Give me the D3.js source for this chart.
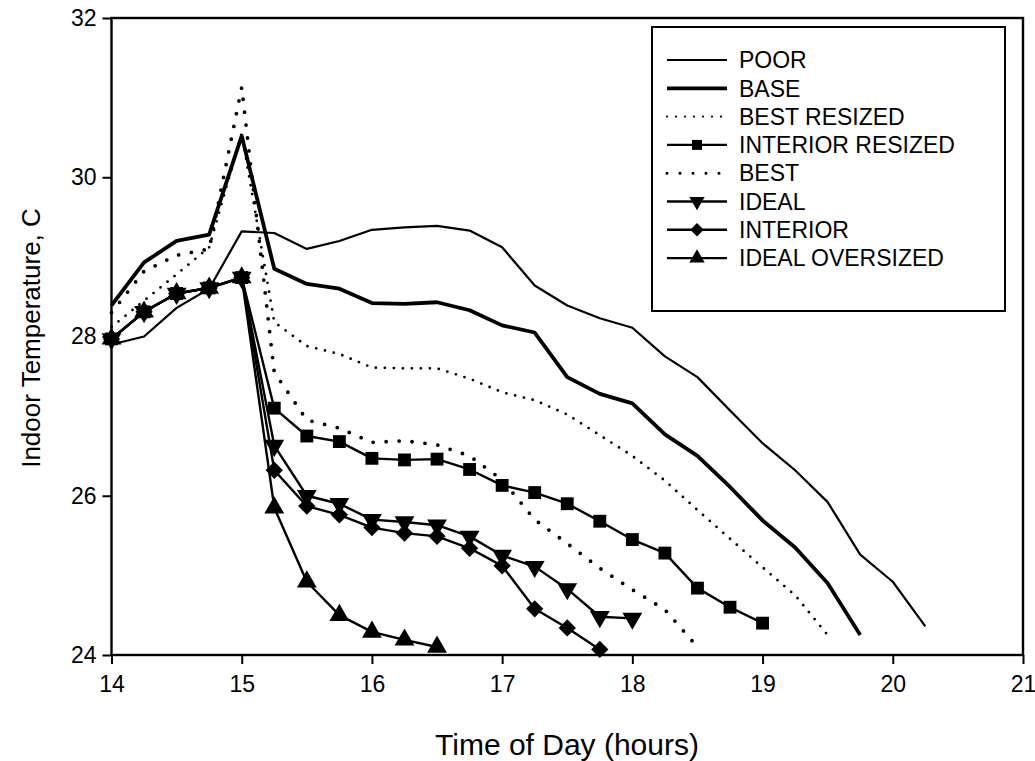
<!DOCTYPE html>
<html>
<head>
<meta charset="utf-8">
<script src="https://cdn.jsdelivr.net/npm/d3@7"></script>
<style>
body { margin: 0; background: #fff; }
svg { font-family: "Liberation Sans", Arial, sans-serif; }
</style>
</head>
<body>
<svg id="chart" width="1035" height="761"></svg>
<script>
// time axis (hours), one reading every 15 min
var timeSteps = [14, 14.25, 14.5, 14.75, 15, 15.25, 15.5, 15.75, 16, 16.25, 16.5, 16.75,
                 17, 17.25, 17.5, 17.75, 18, 18.25, 18.5, 18.75, 19, 19.25, 19.5, 19.75, 20, 20.25];

// indoor temperature, C (each series starts at 14:00 and stops when it ends)
var poor = [27.9, 28.0, 28.36, 28.6, 29.32, 29.3, 29.1, 29.2, 29.34, 29.37, 29.39, 29.33,
            29.12, 28.64, 28.39, 28.23, 28.11, 27.75, 27.49, 27.07, 26.66, 26.32, 25.92, 25.26, 24.92, 24.36];
var base = [28.39, 28.93, 29.2, 29.28, 30.52, 28.85, 28.66, 28.6, 28.42, 28.41, 28.43, 28.33,
            28.14, 28.05, 27.49, 27.28, 27.16, 26.77, 26.5, 26.11, 25.69, 25.35, 24.9, 24.25];
var bestResized = [28.12, 28.45, 28.78, 29.12, 30.55, 28.18, 27.88, 27.78, 27.61, 27.6, 27.6, 27.47,
                   27.3, 27.2, 27.02, 26.76, 26.5, 26.19, 25.82, 25.46, 25.1, 24.75, 24.25];
var interiorResized = [27.97, 28.31, 28.54, 28.61, 28.74, 27.1, 26.75, 26.68, 26.47, 26.45, 26.46, 26.33,
                       26.13, 26.04, 25.9, 25.68, 25.45, 25.28, 24.84, 24.6, 24.4];
var best = [28.3, 28.82, 29.02, 29.1, 31.13, 27.55, 26.95, 26.85, 26.67, 26.69, 26.64, 26.5,
            26.2, 25.7, 25.4, 25.09, 24.82, 24.57, 24.1];
var ideal = [27.97, 28.31, 28.54, 28.61, 28.74, 26.63, 26.0, 25.9, 25.7, 25.67, 25.63, 25.49,
             25.25, 25.11, 24.83, 24.48, 24.46];
var interior = [27.97, 28.31, 28.54, 28.61, 28.74, 26.32, 25.87, 25.76, 25.6, 25.53, 25.49, 25.34,
                25.12, 24.58, 24.34, 24.07];
var idealOversized = [27.97, 28.31, 28.54, 28.61, 28.74, 25.85, 24.92, 24.5, 24.29, 24.19, 24.1];

var seriesNames = ["POOR", "BASE", "BEST RESIZED", "INTERIOR RESIZED", "BEST", "IDEAL", "INTERIOR", "IDEAL OVERSIZED"];
var seriesValues = [poor, base, bestResized, interiorResized, best, ideal, interior, idealOversized];

var xTicks = [14, 15, 16, 17, 18, 19, 20, 21];
var yTicks = [24, 26, 28, 30, 32];

// look of each series
var styles = {
    "POOR":             {width: 2.2, dash: null,   marker: null},
    "BASE":             {width: 3.8, dash: null,   marker: null},
    "BEST RESIZED":     {width: 2.8, dash: "0,9",  marker: null},
    "INTERIOR RESIZED": {width: 2.4, dash: null,   marker: "square"},
    "BEST":             {width: 3.8, dash: "0,13", marker: null},
    "IDEAL":            {width: 2.4, dash: null,   marker: "down"},
    "INTERIOR":         {width: 2.4, dash: null,   marker: "diamond"},
    "IDEAL OVERSIZED":  {width: 2.4, dash: null,   marker: "up"}
};

var svg = d3.select("#chart");

var x = d3.scaleLinear().domain([14, 21]).range([111.5, 1023]);
var y = d3.scaleLinear().domain([24, 32]).range([655, 18]);

// marker path + rotation
function markerPath(kind, big) {
    var s = big ? 1 : 0.6;
    if (kind == "square") return {d: d3.symbol().type(d3.symbolSquare).size(165 * s)(), rot: 0};
    if (kind == "diamond") return {d: d3.symbol().type(d3.symbolSquare).size(150 * s)(), rot: 45};
    if (kind == "up") return {d: d3.symbol().type(d3.symbolTriangle).size(170 * s)(), rot: 0};
    if (kind == "down") return {d: d3.symbol().type(d3.symbolTriangle).size(170 * s)(), rot: 180};
}

// axes
var xAxis = svg.append("g")
    .attr("transform", "translate(0," + y(24) + ")")
    .call(d3.axisBottom(x).tickValues(xTicks).tickFormat(d3.format("d"))
        .tickSize(9).tickSizeOuter(0).tickPadding(12));
var yAxis = svg.append("g")
    .attr("transform", "translate(" + x(14) + ",0)")
    .call(d3.axisLeft(y).tickValues(yTicks).tickFormat(d3.format("d"))
        .tickSize(9).tickSizeOuter(0).tickPadding(6));

[xAxis, yAxis].forEach(function(a) {
    a.select(".domain").remove();
    a.selectAll("line").attr("stroke", "#000").attr("stroke-width", 2);
    a.selectAll("text").attr("fill", "#000").style("font-size", "23px");
});

// plot frame
svg.append("rect")
    .attr("x", x(14)).attr("y", y(32))
    .attr("width", x(21) - x(14)).attr("height", y(24) - y(32))
    .attr("fill", "none").attr("stroke", "#000").attr("stroke-width", 2.4);

var line = d3.line()
    .x(function(d) { return x(d.t); })
    .y(function(d) { return y(d.v); });

var plot = svg.append("g");

for (var i = 0; i < seriesNames.length; i++) {
    var st = styles[seriesNames[i]];
    var pts = seriesValues[i].map(function(v, j) { return {t: timeSteps[j], v: v}; });

    var path = plot.append("path")
        .datum(pts)
        .attr("d", line)
        .attr("fill", "none")
        .attr("stroke", "#000")
        .attr("stroke-width", st.width)
        .attr("stroke-linejoin", "round");
    if (st.dash) path.attr("stroke-dasharray", st.dash).attr("stroke-linecap", "round");

    if (st.marker) {
        var m = markerPath(st.marker, true);
        plot.append("g").selectAll("path")
            .data(pts)
            .enter().append("path")
            .attr("d", m.d)
            .attr("transform", function(d) { return "translate(" + x(d.t) + "," + y(d.v) + ") rotate(" + m.rot + ")"; })
            .attr("fill", "#000");
    }
}

// legend
var legend = svg.append("g");
legend.append("rect")
    .attr("x", 652).attr("y", 27).attr("width", 353).attr("height", 284)
    .attr("fill", "#fff").attr("stroke", "#000").attr("stroke-width", 2);

for (var i = 0; i < seriesNames.length; i++) {
    var st = styles[seriesNames[i]];
    var ly = 60 + i * 28.3;
    var l = legend.append("line")
        .attr("x1", 667).attr("x2", 727).attr("y1", ly).attr("y2", ly)
        .attr("stroke", "#000")
        .attr("stroke-width", st.dash ? st.width * 0.8 : st.width);
    if (st.dash) l.attr("stroke-dasharray", st.dash).attr("stroke-linecap", "round");
    if (st.marker) {
        var m = markerPath(st.marker, false);
        legend.append("path")
            .attr("d", m.d)
            .attr("transform", "translate(697," + ly + ") rotate(" + m.rot + ")")
            .attr("fill", "#000");
    }
    legend.append("text")
        .attr("x", 739).attr("y", ly)
        .attr("dy", "0.36em")
        .style("font-size", "23px")
        .text(seriesNames[i]);
}

// axis titles
svg.append("text")
    .attr("x", 567).attr("y", 755)
    .attr("text-anchor", "middle")
    .style("font-size", "30px")
    .text("Time of Day (hours)");

svg.append("text")
    .attr("transform", "translate(40," + 338 + ") rotate(-90)")
    .attr("text-anchor", "middle")
    .style("font-size", "26px")
    .text("Indoor Temperature, C");
</script>
</body>
</html>
